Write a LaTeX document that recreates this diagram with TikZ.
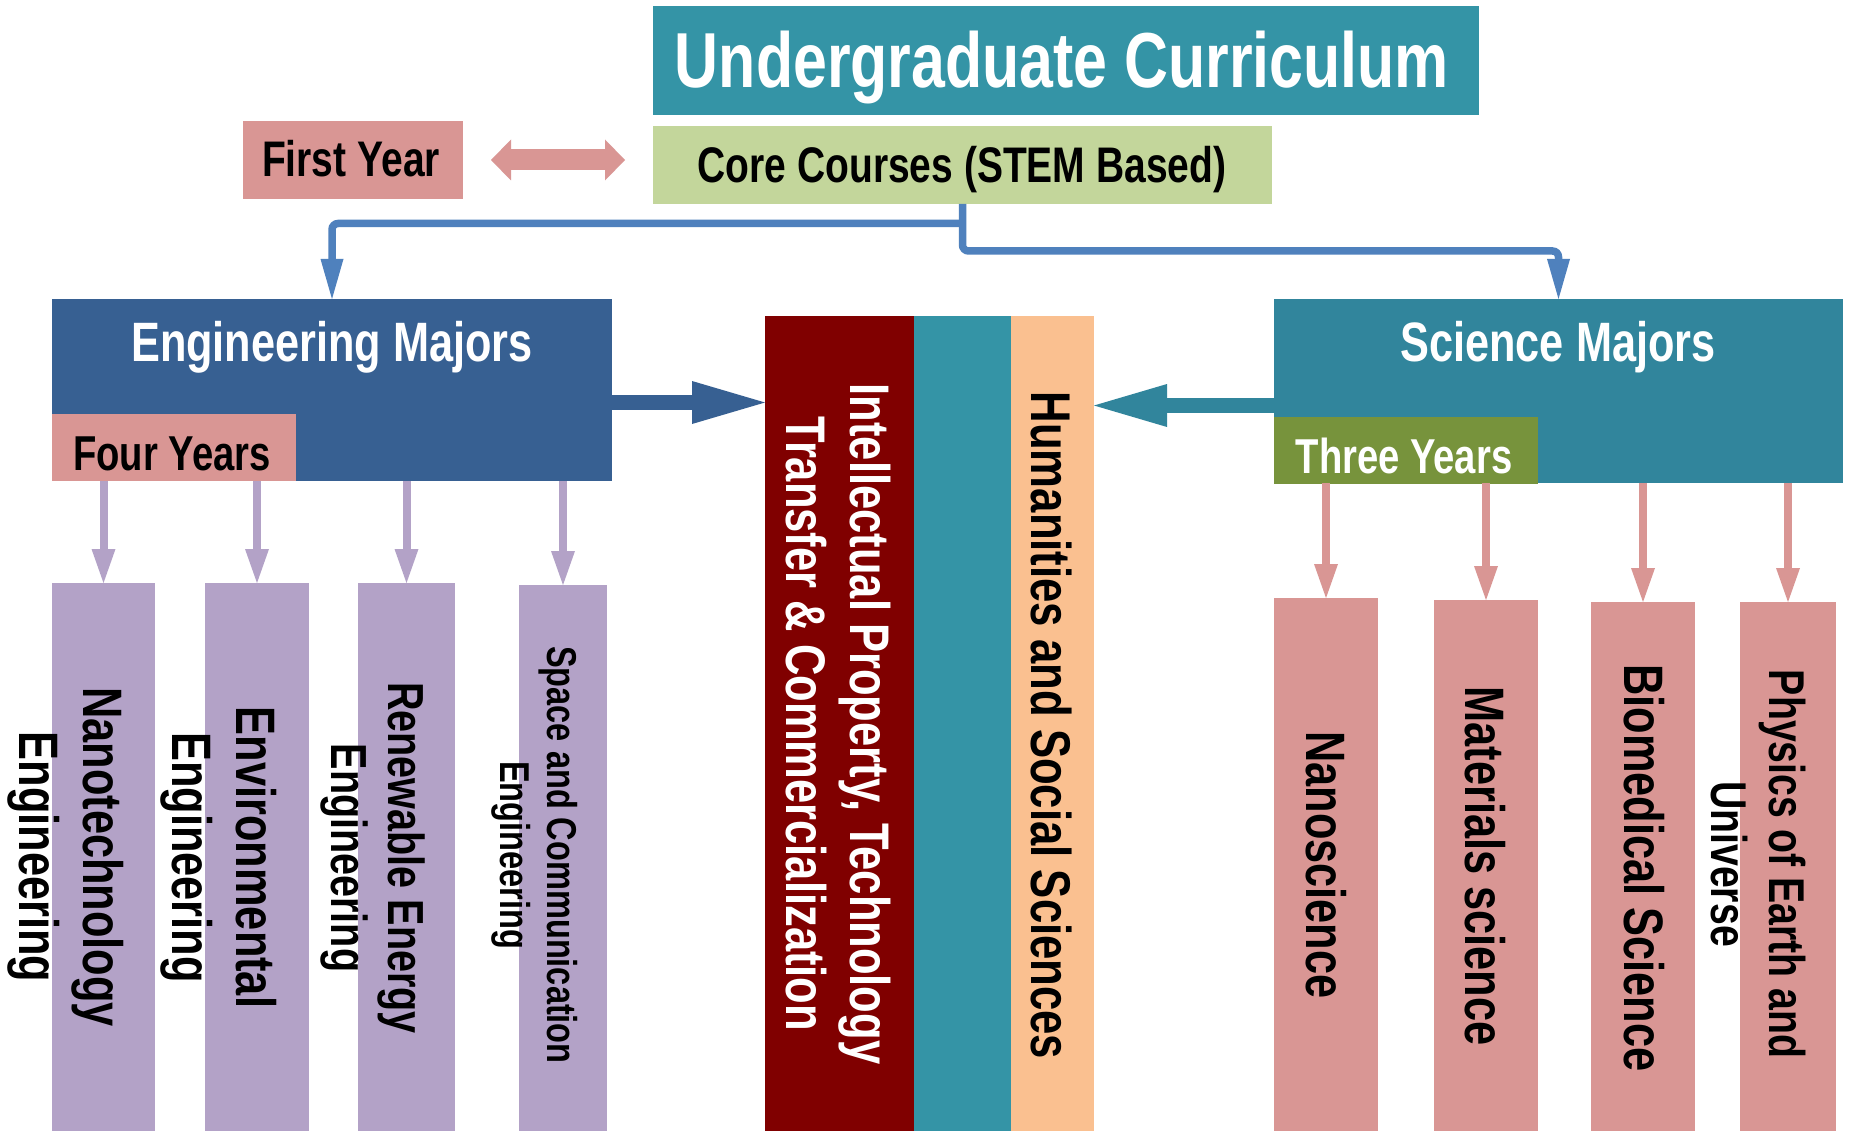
\documentclass[tikz,border=0pt]{standalone}
\usepackage{fontspec}
\usetikzlibrary{arrows.meta}
\newfontfamily\nb{Liberation Sans Bold}[FakeStretch=0.78]
\definecolor{titleteal}{HTML}{3494A6}
\definecolor{sciteal}{HTML}{31859C}
\definecolor{engblue}{HTML}{376092}
\definecolor{rosec}{HTML}{D99694}
\definecolor{coregreen}{HTML}{C3D69B}
\definecolor{olivegr}{HTML}{77933C}
\definecolor{lavc}{HTML}{B3A2C7}
\definecolor{maroonc}{HTML}{800000}
\definecolor{peachc}{HTML}{FAC090}
\definecolor{connblue}{HTML}{4F81BD}
\begin{document}
\begin{tikzpicture}[x=1pt,y=-1pt,
  box/.style={rectangle, draw=none, inner sep=0pt, outer sep=0pt},
  tx/.style={inner sep=0pt, outer sep=0pt, align=center},
  vt/.style={tx, rotate=-90},
  dblarrow/.style={draw=rosec, line width=21pt,
    arrows={Triangle[length=20pt,width=41pt,line width=0pt 0 0]-Triangle[length=20pt,width=41pt,line width=0pt 0 0]}},
  blueconn/.style={draw=connblue, line width=7.5pt, rounded corners=6pt,
    arrows={-Triangle[length=40pt,width=23pt,line width=0pt 0 0]}},
  bigarrow/.style={draw=#1, line width=15pt,
    arrows={-Triangle[length=73pt,width=43pt,line width=0pt 0 0]}},
  smallarrow/.style={draw=#1, line width=8pt,
    arrows={-Triangle[length=34pt,width=24pt,line width=0pt 0 0]}}]
\useasboundingbox (0,0) rectangle (1851,1131);
\fill[white] (0,0) rectangle (1851,1131);

% ---------- boxes ----------
\node[box, fill=titleteal, minimum width=826pt, minimum height=109pt] (title) at (1066,60.5) {};
\node[box, fill=rosec, minimum width=220pt, minimum height=78pt] (fy) at (353,160) {};
\node[box, fill=coregreen, minimum width=619pt, minimum height=78pt] (core) at (962.5,165) {};
\node[box, fill=engblue, minimum width=560pt, minimum height=182pt] (eng) at (332,390) {};
\node[box, fill=rosec, minimum width=244pt, minimum height=67pt] (four) at (174,447.5) {};
\node[box, fill=sciteal, minimum width=569pt, minimum height=184pt] (sci) at (1558.5,391) {};
\node[box, fill=olivegr, minimum width=264pt, minimum height=67pt] (three) at (1406,450.5) {};
\node[box, fill=maroonc, minimum width=149pt, minimum height=815pt] (ipcol) at (839.5,723.5) {};
\node[box, fill=titleteal, minimum width=97pt, minimum height=815pt] (midcol) at (962.5,723.5) {};
\node[box, fill=peachc, minimum width=83pt, minimum height=815pt] (humcol) at (1052.5,723.5) {};

\node[box, fill=lavc, minimum width=103pt, minimum height=548pt] (e1) at (103.5,857) {};
\node[box, fill=lavc, minimum width=104pt, minimum height=548pt] (e2) at (257,857) {};
\node[box, fill=lavc, minimum width=97pt, minimum height=548pt] (e3) at (406.5,857) {};
\node[box, fill=lavc, minimum width=88pt, minimum height=546pt] (e4) at (563,858) {};

\node[box, fill=rosec, minimum width=104pt, minimum height=533pt] (s1) at (1326,864.5) {};
\node[box, fill=rosec, minimum width=104pt, minimum height=531pt] (s2) at (1486,865.5) {};
\node[box, fill=rosec, minimum width=104pt, minimum height=529pt] (s3) at (1643,866.5) {};
\node[box, fill=rosec, minimum width=96pt, minimum height=529pt] (s4) at (1788,866.5) {};

% ---------- horizontal texts ----------
\node[tx, anchor=base, text=white, font=\nb\fontsize{78pt}{90pt}\selectfont] (titlet) at (1062,88) {Undergraduate Curriculum};
\node[tx, anchor=base, text=black, font=\nb\fontsize{50pt}{57pt}\selectfont] (fyt) at (351,177) {First Year};
\node[tx, anchor=base, text=black, font=\nb\fontsize{50pt}{57pt}\selectfont] (coret) at (962,183) {Core Courses (STEM Based)};
\node[tx, anchor=base, text=white, font=\nb\fontsize{55.5pt}{64pt}\selectfont] (engt) at (332,361) {Engineering Majors};
\node[tx, anchor=base, text=white, font=\nb\fontsize{55.5pt}{64pt}\selectfont] (scit) at (1558,361) {Science Majors};
\node[tx, anchor=base, text=black, font=\nb\fontsize{49pt}{56pt}\selectfont] (fourt) at (172,470) {Four Years};
\node[tx, anchor=base, text=white, font=\nb\fontsize{49pt}{56pt}\selectfont] (threet) at (1404,473) {Three Years};

% ---------- vertical texts ----------
\node[vt, text=white, font=\nb\fontsize{55.8pt}{63.5pt}\selectfont] (ipt) at (838.6,724) {Intellectual Property, Technology\\Transfer \& Commercialization};
\node[vt, text=black, font=\nb\fontsize{56pt}{64pt}\selectfont] (humt) at (1051,725.5) {Humanities and Social Sciences};

\node[vt, text=black, font=\nb\fontsize{55.6pt}{64pt}\selectfont] (e1t) at (65.6,857) {Nanotechnology\\Engineering};
\node[vt, text=black, font=\nb\fontsize{55.6pt}{64pt}\selectfont] (e2t) at (218.6,857.5) {Environmental\\Engineering};
\node[vt, text=black, font=\nb\fontsize{50.7pt}{57pt}\selectfont] (e3t) at (373.1,858) {Renewable Energy\\Engineering};
\node[vt, text=black, font=\nb\fontsize{41.7pt}{47.5pt}\selectfont] (e4t) at (534.7,855) {Space and Communication\\Engineering};

\node[vt, text=black, font=\nb\fontsize{55.5pt}{64pt}\selectfont] (s1t) at (1326,865) {Nanoscience};
\node[vt, text=black, font=\nb\fontsize{55.6pt}{64pt}\selectfont] (s2t) at (1485,866) {Materials science};
\node[vt, text=black, font=\nb\fontsize{55.6pt}{64pt}\selectfont] (s3t) at (1644,868) {Biomedical Science};
\node[vt, text=black, font=\nb\fontsize{50.3pt}{58.5pt}\selectfont] (s4t) at (1758.6,864) {Physics of Earth and\\Universe};

% ---------- connectors ----------
\draw[dblarrow, shorten <=28pt, shorten >=28pt] (fy.east) -- (fy.east -| core.west);

\coordinate (jl) at ([xshift=-3.5pt,yshift=-19.5pt]core.south);
\draw[blueconn] (jl) -| (eng.north);
\draw[blueconn] (core.south) |- ([yshift=48pt]sci.north) -- (sci.north);

\coordinate (ea) at ([yshift=-12.5pt]eng.east);
\draw[bigarrow=engblue] (ea) -- (ea -| ipcol.west);
\coordinate (sa) at ([yshift=-14.5pt]sci.west);
\draw[bigarrow=sciteal] (sa) -- (sa -| humcol.east);

\foreach \b in {e1,e2,e3,e4}
  \draw[smallarrow=lavc] (\b.north |- eng.south) -- (\b.north);
\foreach \b in {s1,s2,s3,s4}
  \draw[smallarrow=rosec] (\b.north |- sci.south) -- (\b.north);
\end{tikzpicture}
\end{document}
